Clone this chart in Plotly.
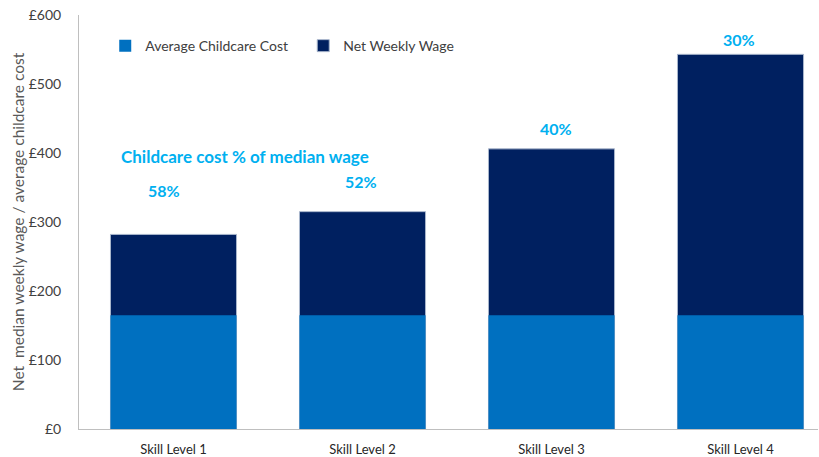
import plotly.graph_objects as go

# Weekly figures by skill level (GBP)
skill_levels = ["Skill Level 1", "Skill Level 2", "Skill Level 3", "Skill Level 4"]
net_weekly_wage = [282, 315, 406, 543]
childcare_cost = [165, 165, 165, 165]
pct_labels = ["58%", "52%", "40%", "30%"]

y_ticks = [0, 100, 200, 300, 400, 500, 600]
y_tick_text = ["£0", "£100", "£200", "£300", "£400", "£500", "£600"]

FONT = "Lato, 'Open Sans', sans-serif"
CYAN = "#00B0F0"
BAR_W = 0.667

# placement of the percentage call-outs (data-space height, pixel nudge)
LABEL_Y = [346, 358, 435, 564]
LABEL_DX = [-10, -2, 4, -2]

fig = go.Figure()

# Full wage bar drawn behind, childcare cost overlaid from zero
fig.add_trace(go.Bar(
    x=skill_levels, y=net_weekly_wage, name="Net Weekly Wage", width=BAR_W,
    marker=dict(color="#002060", line=dict(color="#A9B6CC", width=1)),
    legendrank=2, hoverinfo="skip",
))
fig.add_trace(go.Bar(
    x=skill_levels, y=childcare_cost, name="Average Childcare Cost", width=BAR_W,
    marker=dict(color="#0070C0", line=dict(width=0)),
    legendrank=1, hoverinfo="skip",
))

for lvl, txt, yy, dx in zip(skill_levels, pct_labels, LABEL_Y, LABEL_DX):
    fig.add_annotation(x=lvl, y=yy, xshift=dx, text=f"<b>{txt}</b>", showarrow=False,
                       font=dict(family=FONT, size=16, color=CYAN))

fig.add_annotation(x=0.225, y=0.658, xref="paper", yref="paper", xanchor="center",
                   text="<b>Childcare cost % of median wage</b>", showarrow=False,
                   font=dict(family=FONT, size=17, color=CYAN))

fig.update_layout(
    width=819, height=457,
    margin=dict(l=79, r=1, t=15, b=28),
    paper_bgcolor="white", plot_bgcolor="white",
    barmode="overlay",
    font=dict(family=FONT, size=14, color="#404040"),
    legend=dict(orientation="h", x=0.0355, y=0.925, xanchor="left", yanchor="middle",
                itemwidth=30, entrywidth=153, entrywidthmode="pixels",
                font=dict(size=14, color="#404040"),
                bgcolor="rgba(0,0,0,0)", itemclick=False),
    xaxis=dict(range=[-0.5, 3.41], showline=True, linecolor="#BFBFBF", linewidth=1,
               ticks="", showgrid=False, ticklabelstandoff=8,
               tickfont=dict(size=13, color="#262626")),
    yaxis=dict(range=[0, 600], tickvals=y_ticks, ticktext=y_tick_text,
               showline=True, linecolor="#BFBFBF", linewidth=1, ticks="",
               showgrid=False, zeroline=False, ticklabelstandoff=14,
               tickfont=dict(size=14, color="#404040"),
               title=dict(text="Net  median weekly wage / average childcare cost",
                          font=dict(size=15.5, color="#595959"), standoff=0)),
)

fig.write_html("out.html")
